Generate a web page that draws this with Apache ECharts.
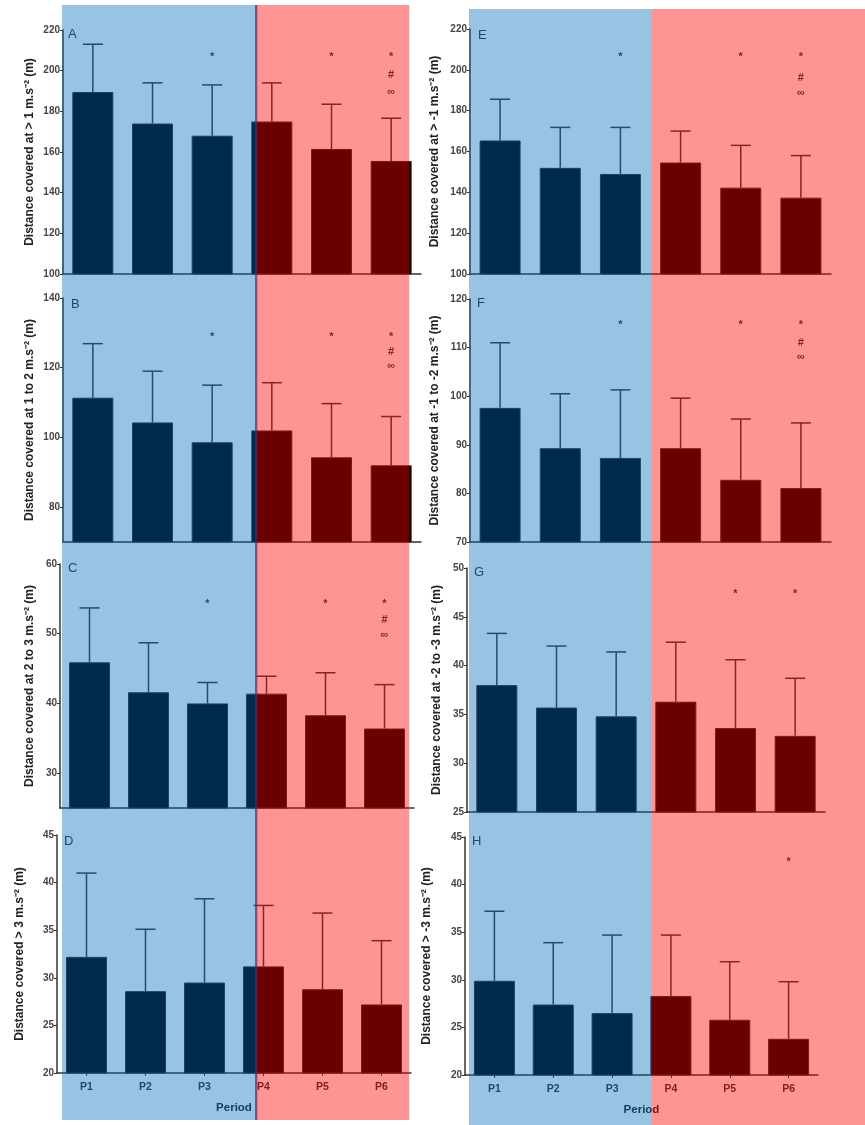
<!DOCTYPE html>
<html>
<head>
<meta charset="utf-8">
<script src="https://cdn.jsdelivr.net/npm/echarts@6/dist/echarts.min.js"></script>
<style>
html, body { margin: 0; padding: 0; background: #fff; }
#chart { width: 865px; height: 1125px; }
</style>
</head>
<body>
<div id="chart"></div>
<script>
// periods
var periods = ['P1', 'P2', 'P3', 'P4', 'P5', 'P6'];

// mean and SD per panel
var meanA = [189.5, 174, 168, 175, 161.5, 155.6];
var sdA   = [23.5, 20, 25, 19, 22, 21];
var meanB = [111.4, 104.3, 98.6, 102, 94.3, 92];
var sdB   = [15.5, 14.7, 16.4, 13.7, 15.4, 14];
var meanC = [45.9, 41.6, 40, 41.4, 38.3, 36.4];
var sdC   = [7.8, 7.1, 3.0, 2.5, 6.1, 6.3];
var meanD = [32.2, 28.6, 29.5, 31.2, 28.8, 27.2];
var sdD   = [8.8, 6.5, 8.8, 6.4, 8, 6.7];
var meanE = [165.4, 152, 149, 154.6, 142.3, 137.4];
var sdE   = [20.2, 19.8, 22.8, 15.4, 20.7, 20.6];
var meanF = [97.6, 89.3, 87.3, 89.3, 82.8, 81.1];
var sdF   = [13.4, 11.2, 14, 10.3, 12.5, 13.4];
var meanG = [38, 35.7, 34.8, 36.3, 33.6, 32.8];
var sdG   = [5.3, 6.3, 6.6, 6.1, 7, 5.9];
var meanH = [29.9, 27.4, 26.5, 28.3, 25.8, 23.8];
var sdH   = [7.3, 6.5, 8.2, 6.4, 6.1, 6];

// significance marks: [period index, row, symbol]
var sigFull = [[2, 0, '*'], [4, 0, '*'], [5, 0, '*'], [5, 1, '#'], [5, 2, '∞']];
var sigG = [[4, 0, '*'], [5, 0, '*']];
var sigH = [[5, 0, '*']];

// tick labels
var ticksA = [100, 120, 140, 160, 180, 200, 220];
var ticksB = [80, 100, 120, 140];
var ticksC = [30, 40, 50, 60];
var ticksD = [20, 25, 30, 35, 40, 45];
var ticksE = [100, 120, 140, 160, 180, 200, 220];
var ticksF = [70, 80, 90, 100, 110, 120];
var ticksG = [25, 30, 35, 40, 45, 50];
var ticksH = [20, 25, 30, 35, 40, 45];

var names = [
    'Distance covered at > 1 m.s⁻² (m)',
    'Distance covered at 1 to 2 m.s⁻² (m)',
    'Distance covered at 2 to 3 m.s⁻² (m)',
    'Distance covered > 3 m.s⁻² (m)',
    'Distance covered at > -1 m.s⁻² (m)',
    'Distance covered at -1 to -2 m.s⁻² (m)',
    'Distance covered at -2 to -3 m.s⁻² (m)',
    'Distance covered > -3 m.s⁻² (m)'
];
var letters = ['A', 'B', 'C', 'D', 'E', 'F', 'G', 'H'];

var panels = [
    { mean: meanA, sd: sdA, ticks: ticksA, min: 100, max: 220, step: 20, sig: sigFull, rows: [0.11, 0.185, 0.255],
      grid: { left: 63, top: 30, width: 358, height: 244 }, gap: 27, letter: [73, 35] },
    { mean: meanB, sd: sdB, ticks: ticksB, min: 70, max: 140, step: 10, sig: sigFull, rows: [0.16, 0.22, 0.28],
      grid: { left: 63, top: 298, width: 358, height: 244 }, gap: 27, letter: [76, 305] },
    { mean: meanC, sd: sdC, ticks: ticksC, min: 25, max: 60, step: 5, sig: sigFull, rows: [0.165, 0.23, 0.29],
      grid: { left: 60, top: 564, width: 354, height: 244 }, gap: 24, letter: [73, 569] },
    { mean: meanD, sd: sdD, ticks: ticksD, min: 20, max: 45, step: 5, sig: [], rows: [],
      grid: { left: 57, top: 835, width: 354, height: 238 }, gap: 31, letter: [69, 842], xlab: true },
    { mean: meanE, sd: sdE, ticks: ticksE, min: 100, max: 220, step: 20, sig: sigFull, rows: [0.115, 0.2, 0.26],
      grid: { left: 470, top: 29, width: 361, height: 245 }, gap: 29, letter: [483, 36] },
    { mean: meanF, sd: sdF, ticks: ticksF, min: 70, max: 120, step: 10, sig: sigFull, rows: [0.107, 0.18, 0.24],
      grid: { left: 470, top: 299, width: 361, height: 243 }, gap: 29, letter: [482, 304] },
    { mean: meanG, sd: sdG, ticks: ticksG, min: 25, max: 50, step: 5, sig: sigG, rows: [0.107],
      grid: { left: 467, top: 568, width: 358, height: 244 }, gap: 24, letter: [479, 573] },
    { mean: meanH, sd: sdH, ticks: ticksH, min: 20, max: 45, step: 5, sig: sigH, rows: [0.105],
      grid: { left: 465, top: 837, width: 353, height: 238 }, gap: 32, letter: [477, 842], xlab: true }
];

var chartDom = document.getElementById('chart');
var myChart = echarts.init(chartDom);
var option;

var grids = [], xAxes = [], yAxes = [], series = [], graphics = [];

panels.forEach(function (p, k) {
    grids.push(p.grid);
    xAxes.push({
        type: 'category',
        gridIndex: k,
        data: periods,
        axisLine: { lineStyle: { color: '#333', width: 1.5 } },
        axisTick: { show: !!p.xlab, alignWithLabel: true, length: 3, lineStyle: { color: '#333' } },
        axisLabel: { show: !!p.xlab, color: '#333', fontSize: 10.5, fontWeight: 'bold', margin: 9, fontFamily: 'Liberation Sans' },
        name: p.xlab ? 'Period' : '',
        nameLocation: 'middle',
        nameGap: 29,
        nameTextStyle: { color: '#222', fontSize: 11.5, fontWeight: 'bold', fontFamily: 'Liberation Sans' }
    });
    yAxes.push({
        type: 'value',
        gridIndex: k,
        min: p.min,
        max: p.max,
        interval: p.step,
        splitLine: { show: false },
        axisLine: { show: true, lineStyle: { color: '#333', width: 1.5 } },
        axisTick: { show: true, length: 3, customValues: p.ticks, lineStyle: { color: '#333' } },
        axisLabel: { color: '#444', fontSize: 10, fontWeight: 'bold', margin: 3, customValues: p.ticks, fontFamily: 'Liberation Sans' },
        name: names[k],
        nameLocation: 'middle',
        nameGap: p.gap,
        nameTextStyle: { color: '#222', fontSize: 12, fontWeight: 'bold', fontFamily: 'Liberation Sans' }
    });
    series.push({
        type: 'bar',
        xAxisIndex: k,
        yAxisIndex: k,
        data: p.mean,
        barWidth: 41,
        itemStyle: { color: '#000', borderColor: '#2a2a2a', borderWidth: 1 }
    });
    series.push({
        type: 'custom',
        xAxisIndex: k,
        yAxisIndex: k,
        data: p.mean.map(function (m, i) { return [i, m, m + p.sd[i]]; }),
        renderItem: function (params, api) {
            var base = api.coord([api.value(0), api.value(1)]);
            var top = api.coord([api.value(0), api.value(2)]);
            var hw = 10;
            return {
                type: 'group',
                children: [
                    { type: 'line', shape: { x1: base[0], y1: base[1], x2: top[0], y2: top[1] }, style: { stroke: '#3a3a3a', lineWidth: 1.5 } },
                    { type: 'line', shape: { x1: top[0] - hw, y1: top[1], x2: top[0] + hw, y2: top[1] }, style: { stroke: '#3a3a3a', lineWidth: 1.5 } }
                ]
            };
        },
        z: 3
    });
    if (p.sig.length) {
        series.push({
            type: 'scatter',
            xAxisIndex: k,
            yAxisIndex: k,
            symbolSize: 1,
            itemStyle: { color: 'rgba(0,0,0,0)' },
            data: p.sig.map(function (s) {
                return [s[0], p.max - p.rows[s[1]] * (p.max - p.min), s[2]];
            }),
            label: {
                show: true,
                position: 'inside',
                formatter: function (d) { return d.value[2]; },
                color: '#000',
                fontSize: 11,
                fontWeight: 'bold',
                fontFamily: 'Liberation Sans'
            },
            z: 4
        });
    }
    graphics.push({
        type: 'text',
        left: p.letter[0] - 5,
        top: p.letter[1] - 7,
        style: { text: letters[k], fill: '#333', fontSize: 13, fontFamily: 'Liberation Sans' },
        z: 50
    });
});

// tinted overlays (drawn on top of the bars)
graphics.push(
    { type: 'rect', shape: { x: 62, y: 5, width: 195, height: 1115 }, style: { fill: 'rgba(0,105,185,0.4)' }, z: 100, silent: true },
    { type: 'rect', shape: { x: 255, y: 5, width: 154, height: 1115 }, style: { fill: 'rgba(255,0,0,0.42)' }, z: 100, silent: true },
    { type: 'rect', shape: { x: 255, y: 5, width: 2.5, height: 1115 }, style: { fill: 'rgba(80,30,90,0.45)' }, z: 101, silent: true },
    { type: 'rect', shape: { x: 469, y: 9, width: 183, height: 1116 }, style: { fill: 'rgba(0,105,185,0.4)' }, z: 100, silent: true },
    { type: 'rect', shape: { x: 652, y: 9, width: 213, height: 1116 }, style: { fill: 'rgba(255,0,0,0.42)' }, z: 100, silent: true }
);

option = {
    animation: false,
    grid: grids,
    xAxis: xAxes,
    yAxis: yAxes,
    series: series,
    graphic: graphics
};

option && myChart.setOption(option);
</script>
</body>
</html>
